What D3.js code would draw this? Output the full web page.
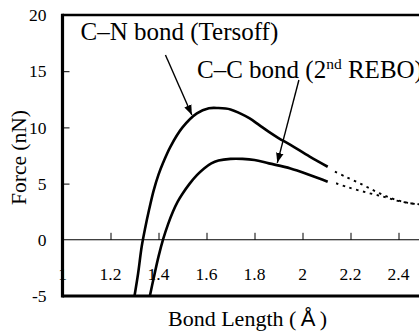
<!DOCTYPE html>
<html>
<head>
<meta charset="utf-8">
<script src="https://cdn.jsdelivr.net/npm/d3@7"></script>
<style>
  html, body { margin: 0; padding: 0; background: #fff; }
  svg { display: block; }
  text { font-family: "Liberation Serif", "Times New Roman", serif; fill: #000; }
</style>
</head>
<body>
<svg id="chart" width="419" height="333"></svg>
<script>
// Force–bond length curves: C–N (Tersoff) and C–C (2nd REBO)
const xTicks = [1, 1.2, 1.4, 1.6, 1.8, 2, 2.2, 2.4];
const xTickLabels = ["1", "1.2", "1.4", "1.6", "1.8", "2", "2.2", "2.4"];
const yTicks = [-5, 0, 5, 10, 15, 20];
const yTickLabels = ["-5", "0", "5", "10", "15", "20"];

// C–N bond (Tersoff): solid part and dashed continuation
const cnSolidX = [1.30, 1.315, 1.33, 1.345, 1.36, 1.38, 1.40, 1.42, 1.45, 1.50, 1.56, 1.61, 1.65, 1.70, 1.74, 1.78, 1.82, 1.86, 1.90, 1.95, 2.03, 2.105];
const cnSolidY = [-5.0, -3.0, -0.6, 1.1, 2.6, 4.4, 5.8, 6.9, 8.3, 10.0, 11.25, 11.7, 11.72, 11.6, 11.25, 10.8, 10.2, 9.6, 9.05, 8.45, 7.4, 6.5];
const cnDashX = [2.135, 2.18, 2.25, 2.32, 2.39, 2.45, 2.49];
const cnDashY = [6.06, 5.6, 4.9, 4.15, 3.55, 3.25, 3.15];

// C–C bond (2nd REBO): solid part and dashed continuation
const ccSolidX = [1.364, 1.38, 1.40, 1.42, 1.44, 1.46, 1.48, 1.50, 1.53, 1.56, 1.59, 1.62, 1.65, 1.70, 1.75, 1.80, 1.86, 1.95, 2.03, 2.105];
const ccSolidY = [-5.0, -3.4, -1.5, 0.1, 1.4, 2.5, 3.4, 4.1, 5.0, 5.75, 6.35, 6.8, 7.05, 7.2, 7.2, 7.1, 6.8, 6.35, 5.77, 5.17];
const ccDashX = [2.14, 2.19, 2.27, 2.34, 2.39, 2.45, 2.49];
const ccDashY = [5.03, 4.67, 4.19, 3.82, 3.5, 3.25, 3.15];

// Annotation arrows: [startX, startY, tipX, tipY] in data units
const cnArrow = [1.429, 16.44, 1.539, 11.1];
const ccArrow = [1.985, 14.22, 1.895, 6.85];

const svg = d3.select("#chart");
const x = d3.scaleLinear().domain([1, 2.5]).range([62.5, 422.5]);
const y = d3.scaleLinear().domain([-5, 20]).range([296, 15]);

const zip = (xs, ys) => xs.map((v, i) => [v, ys[i]]);
const line = d3.line().x(d => x(d[0])).y(d => y(d[1])).curve(d3.curveCatmullRom.alpha(0.5));

// x tick labels (drawn first so the left axis covers the "1")
svg.append("g").selectAll("text").data(xTicks).join("text")
  .attr("x", d => x(d)).attr("y", 279.5)
  .attr("text-anchor", "middle").attr("font-size", 17.5)
  .text((d, i) => xTickLabels[i]);

// Zero line with upward ticks
const xAxis = d3.axisTop(x).tickValues(xTicks.slice(1)).tickSize(7).tickFormat("");
svg.append("g").attr("transform", `translate(0,${y(0)})`).call(xAxis)
  .call(g => g.select(".domain").remove())
  .call(g => g.selectAll("line").attr("stroke", "#000").attr("stroke-width", 1));
svg.append("line").attr("x1", x(1)).attr("x2", 419).attr("y1", y(0)).attr("y2", y(0))
  .attr("stroke", "#000").attr("stroke-width", 1.1);

// y ticks pointing into the plot
const yAxis = d3.axisRight(y).tickValues([5, 10, 15]).tickSize(7).tickFormat("");
svg.append("g").attr("transform", `translate(${x(1)},0)`).call(yAxis)
  .call(g => g.select(".domain").remove())
  .call(g => g.selectAll("line").attr("stroke", "#000").attr("stroke-width", 1));

// y tick labels
svg.append("g").selectAll("text").data(yTicks).join("text")
  .attr("x", 46.5).attr("y", d => y(d)).attr("dy", "0.35em")
  .attr("text-anchor", "end").attr("font-size", 17.5)
  .text((d, i) => yTickLabels[i]);

// Frame: thick left axis, top and bottom borders
svg.append("line").attr("x1", x(1)).attr("x2", 419).attr("y1", y(20)).attr("y2", y(20))
  .attr("stroke", "#000").attr("stroke-width", 2.5);
svg.append("line").attr("x1", x(1)).attr("x2", 419).attr("y1", y(-5)).attr("y2", y(-5))
  .attr("stroke", "#000").attr("stroke-width", 3);
svg.append("line").attr("x1", x(1)).attr("x2", x(1)).attr("y1", y(20) - 1.25).attr("y2", y(-5) + 1.5)
  .attr("stroke", "#000").attr("stroke-width", 3.2);

// Curves
const curves = svg.append("g").attr("fill", "none").attr("stroke", "#000");
[zip(cnSolidX, cnSolidY), zip(ccSolidX, ccSolidY)].forEach(pts => {
  curves.append("path").attr("d", line(pts)).attr("stroke-width", 2.6)
    .attr("stroke-linecap", "butt");
});
[zip(cnDashX, cnDashY), zip(ccDashX, ccDashY)].forEach(pts => {
  curves.append("path").attr("d", line(pts)).attr("stroke-width", 1.9)
    .attr("stroke-dasharray", "2.5,4.5");
});

// Arrow heads
const defs = svg.append("defs");
defs.append("marker").attr("id", "head")
  .attr("viewBox", "0 0 10 10").attr("refX", 10).attr("refY", 5)
  .attr("markerWidth", 10).attr("markerHeight", 10).attr("markerUnits", "userSpaceOnUse")
  .attr("orient", "auto")
  .append("path").attr("d", "M0,1.2 L10,5 L0,8.8 Z").attr("fill", "#000");

[cnArrow, ccArrow].forEach(a => {
  svg.append("line")
    .attr("x1", x(a[0])).attr("y1", y(a[1]))
    .attr("x2", x(a[2])).attr("y2", y(a[3]))
    .attr("stroke", "#000").attr("stroke-width", 1.4)
    .attr("marker-end", "url(#head)");
});

// Curve labels
svg.append("text").attr("x", 80.5).attr("y", 40).attr("font-size", 25)
  .text("C\u2013N bond (Tersoff)");
const cc = svg.append("text").attr("x", 197).attr("y", 78).attr("font-size", 25);
cc.append("tspan").text("C\u2013C bond (2");
cc.append("tspan").attr("font-size", 15.5).attr("dy", -9.5).text("nd");
cc.append("tspan").attr("dy", 9.5).text(" REBO)");

// Axis titles
const xt = svg.append("text").attr("x", 168).attr("y", 326).attr("font-size", 22);
xt.append("tspan").text("Bond Length (");
xt.append("tspan").attr("font-family", "Liberation Sans, Arial, sans-serif").text("\u2009\u00C5\u2009");
xt.append("tspan").text(")");

svg.append("text")
  .attr("transform", `translate(26,${(108 + 207) / 2}) rotate(-90)`)
  .attr("text-anchor", "middle").attr("font-size", 21.5)
  .text("Force (nN)");
</script>
</body>
</html>
